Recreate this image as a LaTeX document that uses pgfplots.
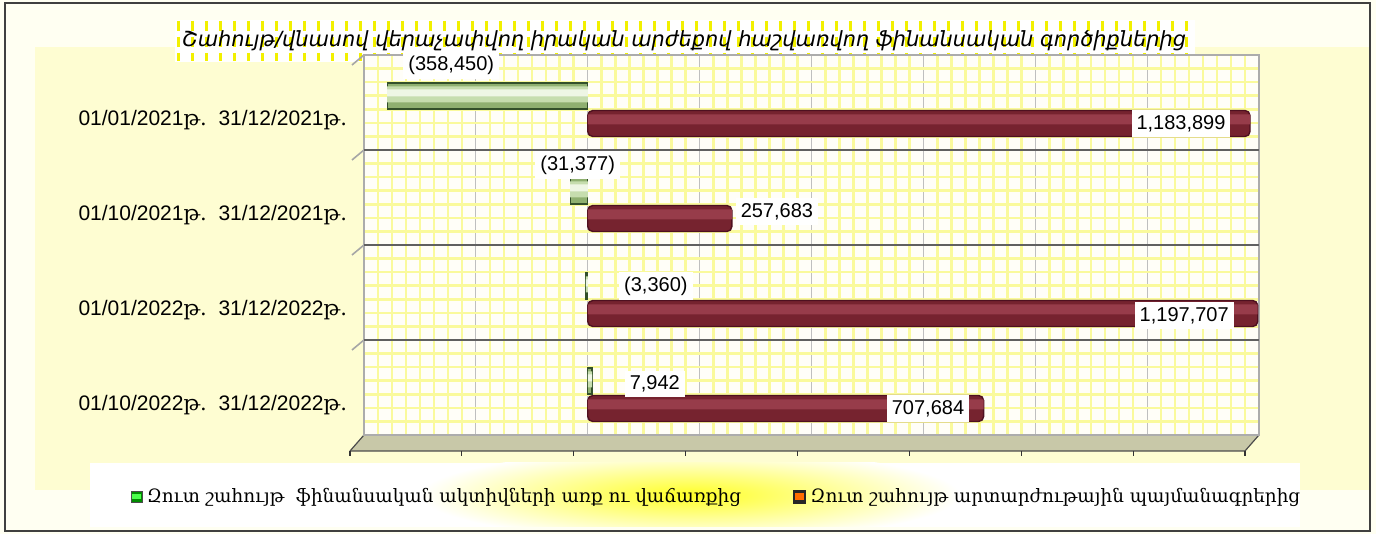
\documentclass[border=0pt]{standalone}
\usepackage{fontspec}
\setmainfont{Liberation Sans}
\newfontfamily\armsans{DejaVu Sans}
\newfontfamily\armserif{DejaVu Serif}
\usepackage{pgfplots}
\usepackage{pgfplotstable}
\pgfplotsset{compat=1.18}
\newcommand{\thu}{{\armserif թ.}}
\definecolor{outerbg}{HTML}{FFFFF2}
\definecolor{panelbg}{HTML}{FEFDD2}
\definecolor{plotbg}{HTML}{FFFEF8}
\definecolor{ygrid}{HTML}{FAFA9C}
\definecolor{tgrid}{HTML}{F2F000}
\definecolor{floorc}{HTML}{C8C8A8}
\definecolor{redA}{HTML}{4E1020}
\definecolor{redB}{HTML}{76232F}
\definecolor{redC}{HTML}{973C4A}
\definecolor{grA}{HTML}{8FB070}
\definecolor{grB}{HTML}{C6DDAE}
\definecolor{grC}{HTML}{EEF6E4}
\definecolor{grline}{HTML}{33502A}

\pgfplotstableread{
y x lab dx dy
3 -358450 (358,450) 32 15.5
2 -31377 (31,377) 3.75 13
1 -3360 (3,360) 35 0
0 7942 7,942 31.3 -1.5
}\greendata

\pgfplotstableread{
y x lab dx dy
3 1183899 1,183,899 -34.5 0
2 257683 257,683 22.5 3.5
1 1197707 1,197,707 -36.75 -1
0 707684 707,684 -27.8 0
}\reddata

\pgfplotsset{lblstyle/.style={
  point meta=explicit symbolic,
  nodes near coords,
  visualization depends on={\thisrow{dx} \as \dx},
  visualization depends on={\thisrow{dy} \as \dy},
  every node near coord/.append style={anchor=center, xshift=\dx pt, yshift=\dy pt, fill=white, inner sep=2.5pt, text=black, font=\fontsize{10}{12}\selectfont},
}}

\begin{document}
\begin{tikzpicture}
\begin{scope}[shift={(0pt,267pt)},x=0.5pt,y=-0.5pt]
  \fill[outerbg] (0,0) rectangle (1376,534);
  \fill[panelbg] (35,47) rectangle (1370,490);
  \draw[black!75, line width=0.8pt] (5,3) rectangle (1370,531);
  % title box
  \fill[white] (175,20) rectangle (1195,62);
  \foreach \xx in {178,192,...,1192} \draw[tgrid, line width=1.5pt, dash pattern=on 5pt off 3pt] (\xx,21) -- (\xx,61);
  \node[font=\armsans\itshape\fontsize{10.45}{13}\selectfont, text=black] at (684,41)
    {Շահույթ/վնասով վերաչափվող իրական արժեքով հաշվառվող ֆինանսական գործիքներից};
  % legend box
  \fill[white] (90,463) rectangle (1300,527);
  \begin{scope}
    \clip (90,463) rectangle (1300,527);
    \shade[inner color=yellow!85, outer color=white] (690,495) ellipse (270 and 45);
  \end{scope}
  % floor
  \fill[floorc] (364,435) -- (1259,435) -- (1245,451) -- (350,451) -- cycle;
  \draw[gray!60!black, line width=0.6pt] (350,451) -- (1245,451) -- (1259,435);
  \draw[gray!60!black, line width=0.6pt] (364,435) -- (350,451);
  \foreach \k in {0,...,8} \draw[black!80, line width=0.6pt] ({350+111.875*\k},451) -- ++(0,5);
  \foreach \yy in {55,150,245,340} \draw[gray!70, line width=0.8pt] (364,\yy) -- (352,\yy+10);
\end{scope}

\begin{axis}[
  at={(182pt,49.5pt)}, anchor=south west,
  scale only axis, width=447.5pt, height=190pt,
  xbar,
  xmin=-400000, xmax=1200000, ymin=-0.5, ymax=3.5,
  xtick={-400000,-200000,0,200000,400000,600000,800000,1000000,1200000},
  xticklabels={}, scaled x ticks=false,
  major tick length=0pt, minor tick length=0pt,
  minor x tick num=7,
  xmajorgrids, xminorgrids, yminorgrids,
  ytick={0,1,2,3},
  yticklabels={01/10/2022\thu\ \ 31/12/2022\thu, 01/01/2022\thu\ \ 31/12/2022\thu, 01/10/2021\thu\ \ 31/12/2021\thu, 01/01/2021\thu\ \ 31/12/2021\thu},
  minor ytick={-0.5,-0.3571,-0.2143,-0.0714,0.0714,0.2143,0.3571,0.5,0.6429,0.7857,0.9286,1.0714,1.2143,1.3571,1.5,1.6429,1.7857,1.9286,2.0714,2.2143,2.3571,2.5,2.6429,2.7857,2.9286,3.0714,3.2143,3.3571,3.5},
  extra y ticks={0.5,1.5,2.5},
  extra y tick labels={},
  extra y tick style={grid=major, major grid style={draw=gray!75!black, line width=0.9pt}},
  minor grid style={draw=ygrid, line width=1.3pt},
  major grid style={draw=gray!50, line width=0.5pt},
  axis line style={draw=gray!65, line width=0.8pt},
  axis background/.style={fill=plotbg},
  yticklabel style={font=\fontsize{10.5}{12}\selectfont, yshift=-8.75pt, xshift=-5pt},
  clip=false,
  legend columns=2,
  legend style={at={(0.395,-0.163)}, anchor=center, draw=none, fill=none,
    font=\armserif\fontsize{9.2}{11}\selectfont,
    /tikz/every even column/.append style={column sep=24pt}},
]
% green series (cylinder look by layered bars)
\addplot[xbar, bar width=13pt, bar shift=3.25pt, draw=grline, line width=0.7pt, fill=grA,
  legend image code/.code={\draw[sharp corners, draw=black!70, line width=0.5pt, fill=green!55!black] (0pt,-2.8pt) rectangle (5.5pt,2.8pt); \fill[sharp corners, green!70!white] (0.8pt,-0.6pt) rectangle (4.7pt,1.2pt);}]
  table[x=x, y=y] {\greendata};
\addlegendentry{Զուտ շահույթ\ \ ֆինանսական ակտիվների առք ու վաճառքից}
\addplot[xbar, forget plot, bar width=8pt, bar shift=4pt, draw=none, fill=grB]
  table[x=x, y=y] {\greendata};
\addplot[xbar, forget plot, bar width=3.5pt, bar shift=4.75pt, draw=none, fill=grC]
  table[x=x, y=y] {\greendata};
% red series
\addplot[xbar, bar width=13pt, bar shift=-10.5pt, draw=redA, line width=0.7pt, fill=redB, rounded corners=2.5pt,
  legend image code/.code={\fill[sharp corners, black!85] (0pt,-3pt) rectangle (6pt,3pt); \fill[sharp corners, orange!85!red] (1.2pt,-1pt) rectangle (4.8pt,1.4pt);}]
  table[x=x, y=y] {\reddata};
\addlegendentry{Զուտ շահույթ արտարժութային պայմանագրերից}
\addplot[xbar, forget plot, bar width=5pt, bar shift=-8.5pt, draw=none, fill=redC]
  table[x=x, y=y] {\reddata};
% value labels
\addplot[xbar, forget plot, bar width=0pt, bar shift=3.25pt, draw=none, fill=none, lblstyle]
  table[x=x, y=y, meta=lab] {\greendata};
\addplot[xbar, forget plot, bar width=0pt, bar shift=-10.5pt, draw=none, fill=none, lblstyle]
  table[x=x, y=y, meta=lab] {\reddata};
\end{axis}
\end{tikzpicture}
\end{document}
